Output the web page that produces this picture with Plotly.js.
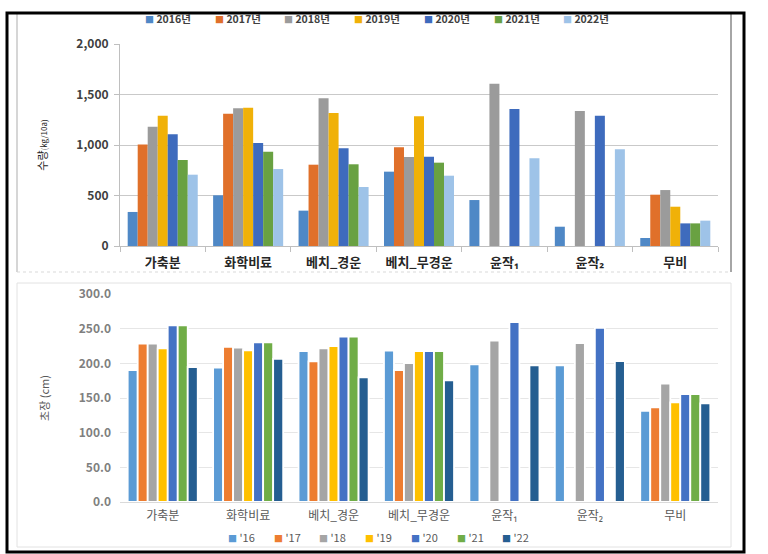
<!DOCTYPE html>
<html>
<head>
<meta charset="utf-8">
<script src="https://cdn.plot.ly/plotly-3.0.1.min.js"></script>
<style>
html,body{margin:0;padding:0;background:#fff;}
#chart{width:768px;height:554px;}
</style>
</head>
<body>
<div id="chart"></div>
<script>
// ---- data ----
var categories = ['가축분', '화학비료', '베치_경운', '베치_무경운', '윤작1', '윤작2', '무비'];
var categoryLabels = ['가축분', '화학비료', '베치_경운', '베치_무경운', '윤작₁', '윤작₂', '무비'];
var topYears = ['2016년', '2017년', '2018년', '2019년', '2020년', '2021년', '2022년'];
var bottomYears = ["'16", "'17", "'18", "'19", "'20", "'21", "'22"];

// 수량 (kg/10a), one array per year, in category order
var yield2016 = [337, 502, 350, 736, 455, 191, 79];
var yield2017 = [1005, 1310, 805, 977, null, null, 508];
var yield2018 = [1181, 1363, 1462, 881, 1607, 1337, 554];
var yield2019 = [1290, 1370, 1317, 1284, null, null, 389];
var yield2020 = [1106, 1020, 967, 884, 1356, 1290, 224];
var yield2021 = [851, 934, 809, 825, null, null, 224];
var yield2022 = [706, 762, 584, 696, 868, 957, 251];

// 초장 (cm), one array per year, in category order
var height16 = [190.4, 193.8, 217.8, 218.3, 198.6, 197.1, 131.3];
var height17 = [228.4, 223.6, 202.9, 190.4, null, null, 136.5];
var height18 = [228.4, 222.6, 221.6, 200.5, 232.7, 229.3, 170.7];
var height19 = [221.6, 218.8, 225.0, 217.8, null, null, 143.8];
var height20 = [254.8, 230.3, 238.5, 217.8, 259.6, 251.0, 155.8];
var height21 = [254.8, 230.3, 238.5, 217.8, null, null, 155.8];
var height22 = [194.7, 206.3, 179.8, 175.5, 197.1, 203.4, 142.3];

var yieldSeries = [yield2016, yield2017, yield2018, yield2019, yield2020, yield2021, yield2022];
var heightSeries = [height16, height17, height18, height19, height20, height21, height22];

// ---- styles ----
var topColors = ['#4F88C6', '#E0702A', '#9B9B9B', '#F0B108', '#3E6BBD', '#69A142', '#9EC3E8'];
var botColors = ['#5B9BD5', '#ED7D31', '#A5A5A5', '#FFC000', '#4472C4', '#70AD47', '#255E91'];
var FONT = '"Noto Sans CJK KR", "Noto Sans", sans-serif';
var W = 768, H = 554;
function PX(x) { return x / W; }
function PY(y) { return 1 - y / H; }

var traces = [];
yieldSeries.forEach(function (vals, i) {
  traces.push({
    type: 'bar', name: topYears[i], x: categories, y: vals,
    xaxis: 'x', yaxis: 'y', showlegend: false,
    marker: { color: topColors[i], line: { width: 0 } },
    hoverinfo: 'x+y+name'
  });
});
heightSeries.forEach(function (vals, i) {
  traces.push({
    type: 'bar', name: bottomYears[i], x: categories, y: vals,
    xaxis: 'x2', yaxis: 'y2', showlegend: false,
    marker: { color: botColors[i], line: { width: 1.8, color: '#ffffff' } },
    hoverinfo: 'x+y+name'
  });
});

// custom legends (compact, like the original)
var annotations = [];
topYears.forEach(function (t, i) {
  annotations.push({
    xref: 'paper', yref: 'paper', x: PX(143 + 69.7 * i), y: PY(18.5),
    xanchor: 'left', yanchor: 'middle', showarrow: false,
    text: '<span style="color:' + topColors[i] + ';font-size:9px">■</span> ' + t,
    font: { family: FONT, size: 10.5, color: '#404040', weight: 'bold' }
  });
});
bottomYears.forEach(function (t, i) {
  annotations.push({
    xref: 'paper', yref: 'paper', x: PX(226 + 45.7 * i), y: PY(537),
    xanchor: 'left', yanchor: 'middle', showarrow: false,
    text: '<span style="color:' + botColors[i] + ';font-size:9px">■</span> ' + t,
    font: { family: FONT, size: 11, color: '#595959' }
  });
});

var shapes = [
  // top panel borders
  { type: 'line', xref: 'paper', yref: 'paper', x0: PX(17), x1: PX(17), y0: PY(14), y1: PY(272), line: { color: '#C8C8C8', width: 1.5 } },
  { type: 'line', xref: 'paper', yref: 'paper', x0: PX(731), x1: PX(731), y0: PY(14), y1: PY(272), line: { color: '#A6A6A6', width: 2 } },
  { type: 'line', xref: 'paper', yref: 'paper', x0: PX(17), x1: PX(731), y0: PY(272), y1: PY(272), line: { color: '#D9D9D9', width: 1, dash: 'dot' } },
  // bottom panel border
  { type: 'rect', xref: 'paper', yref: 'paper', x0: PX(17), x1: PX(731), y0: PY(547), y1: PY(283), line: { color: '#E2E2E2', width: 1 } },
  // outer black frame
  { type: 'rect', xref: 'paper', yref: 'paper', x0: PX(7), x1: PX(744), y0: PY(552), y1: PY(13), line: { color: '#000000', width: 3 } }
];

var layout = {
  width: W, height: H,
  margin: { l: 0, r: 0, t: 0, b: 0 },
  paper_bgcolor: '#ffffff', plot_bgcolor: 'rgba(0,0,0,0)',
  font: { family: FONT },
  barmode: 'group', bargap: 0.18, bargroupgap: 0,
  showlegend: false,
  xaxis: {
    domain: [PX(120), PX(718)], anchor: 'y',
    showline: true, linecolor: '#BFBFBF', linewidth: 1,
    ticks: 'outside', tickson: 'boundaries', ticklen: 5, tickcolor: '#BFBFBF',
    tickvals: categories, ticktext: categoryLabels, ticklabelstandoff: 4,
    tickfont: { family: FONT, size: 13, color: '#262626', weight: 'bold' },
    showgrid: false, fixedrange: true
  },
  yaxis: {
    domain: [PY(246), PY(44)], anchor: 'x',
    range: [0, 2000], dtick: 500, tickformat: ',',
    showline: true, linecolor: '#BFBFBF', linewidth: 1,
    ticks: 'outside', ticklen: 5, tickcolor: '#BFBFBF', ticklabelstandoff: 3,
    gridcolor: '#C9C9C9', zeroline: false,
    tickfont: { family: FONT, size: 12, color: '#404040', weight: 'bold' },
    title: { text: '수량<span style="font-size:8px">(kg/10a)</span>', font: { family: FONT, size: 11, color: '#262626' }, standoff: 26 },
    fixedrange: true
  },
  xaxis2: {
    domain: [PX(120), PX(718)], anchor: 'y2',
    showline: false, ticks: '',
    tickvals: categories, ticktext: categoryLabels, ticklabelstandoff: 5,
    tickfont: { family: FONT, size: 12, color: '#595959' },
    showgrid: false, fixedrange: true
  },
  yaxis2: {
    domain: [PY(502), PY(294)], anchor: 'x2',
    range: [0, 300], dtick: 50, tickformat: '.1f',
    showline: false, ticks: '', ticklabelstandoff: 8,
    gridcolor: '#E6E6E6', zeroline: true, zerolinecolor: '#DADADA', zerolinewidth: 1,
    tickfont: { family: FONT, size: 12, color: '#7F7F7F', weight: 'bold' },
    title: { text: '초장 (cm)', font: { family: FONT, size: 11, color: '#595959' }, standoff: 26 },
    fixedrange: true
  },
  shapes: shapes,
  annotations: annotations
};

Plotly.newPlot('chart', traces, layout, { displayModeBar: false, staticPlot: true });
</script>
</body>
</html>
